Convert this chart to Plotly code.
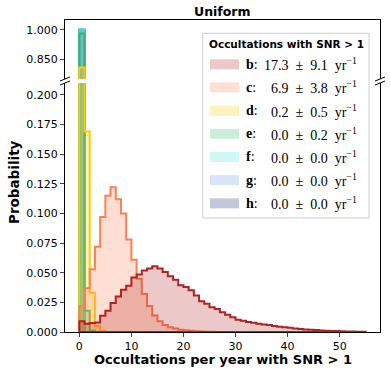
"""
Histograma de ocultaciones por año con SNR > 1 (distribución Uniform),
con eje Y partido en dos paneles.
"""

import plotly.graph_objects as go

# Probabilidad por bin de ancho 1, empezando en 0
prob_b = [0.009, 0.007, 0.0075, 0.008, 0.0138, 0.018, 0.0245, 0.030, 0.0357, 0.039,
          0.046, 0.0484, 0.0518, 0.0535, 0.0554, 0.0535, 0.0507, 0.047, 0.044, 0.0394,
          0.038, 0.0352, 0.0307, 0.0259, 0.0239, 0.0208, 0.0194, 0.0166, 0.0146, 0.0124,
          0.0104, 0.0095, 0.0085, 0.0077, 0.0070, 0.0064, 0.0058, 0.0050, 0.0045, 0.0040,
          0.0035, 0.0030, 0.0026, 0.0022, 0.0019, 0.0016, 0.0013, 0.0011, 0.0009, 0.0008,
          0.0006, 0.0005, 0.0004, 0.0003, 0.0002]
prob_c = [0.022, 0.037, 0.053, 0.072, 0.097, 0.115, 0.122, 0.112, 0.100, 0.078,
          0.061, 0.045, 0.032, 0.022, 0.014, 0.009, 0.006, 0.004, 0.003, 0.002,
          0.0015, 0.001, 0.0007, 0.0005, 0.0003, 0.0002]
prob_d = [0.809, 0.169, 0.033, 0.005, 0.001]
prob_e = [0.981, 0.018, 0.001]
prob_f = [1.0]
prob_g = [1.0]
prob_h = [1.0]

planetas = ["b", "c", "d", "e", "f", "g", "h"]
medias = ["17.3", "6.9", "0.2", "0.0", "0.0", "0.0", "0.0"]
sigmas = ["9.1", "3.8", "0.5", "0.2", "0.0", "0.0", "0.0"]
series = [prob_b, prob_c, prob_d, prob_e, prob_f, prob_g, prob_h]
colores = [(178, 34, 34), (255, 127, 80), (255, 205, 0), (60, 179, 113),
           (64, 224, 208), (100, 149, 237), (25, 25, 112)]

yticks_top = [0.85, 1.0]
yticks_bottom = [0.0, 0.025, 0.05, 0.075, 0.1, 0.125, 0.15, 0.175, 0.2]
xticks = [0, 10, 20, 30, 40, 50]

W, H = 391, 369
L, R, T, B = 65, 11, 20, 37
NB = "\u00a0"


def xp(px):
    return (px - L) / (W - L - R)


def yp(py):
    return (H - B - py) / (H - T - B)


def rgb(c):
    return f"rgb({c[0]},{c[1]},{c[2]})"


def rgba(c, a):
    return f"rgba({c[0]},{c[1]},{c[2]},{a})"


def step_xy(values):
    n = len(values)
    xs = [0, 0] + list(range(1, n + 1)) + [0]
    ys = [0] + list(values) + [0, 0]
    return xs, ys


fig = go.Figure()
# Orden inverso: b queda encima
for nombre, vals, col in reversed(list(zip(planetas, series, colores))):
    xs, ys = step_xy(vals)
    for xa, ya in (("x", "y"), ("x2", "y2")):
        fig.add_scatter(
            x=xs, y=ys, xaxis=xa, yaxis=ya, mode="lines", line_shape="hv",
            fill="toself", fillcolor=rgba(col, 0.25),
            line=dict(color=rgb(col), width=2), showlegend=False,
            hoverinfo="skip", name=nombre,
        )

xr = [-2.75, 57.75]
comun = dict(showgrid=False, zeroline=False, showline=True, linecolor="black",
             linewidth=1)
fig.update_layout(
    width=W, height=H,
    margin=dict(l=L, r=R, t=T, b=B),
    plot_bgcolor="white", paper_bgcolor="white",
    font=dict(family="DejaVu Sans", size=11, color="black"),
    xaxis=dict(domain=[0, 1], anchor="y", range=xr, side="top", ticks="",
               showticklabels=False, **comun),
    yaxis=dict(domain=[yp(79), 1], anchor="x", range=[0.75, 1.05],
               tickvals=yticks_top, tickformat=".3f", ticks="outside",
               ticklen=4, tickwidth=1, mirror=True, **comun),
    xaxis2=dict(domain=[0, 1], anchor="y2", range=xr, matches="x",
                tickvals=xticks, ticks="outside", ticklen=4, tickwidth=1, **comun),
    yaxis2=dict(domain=[0, yp(83)], anchor="x2", range=[0, 0.21],
                tickvals=yticks_bottom, tickformat=".3f", ticks="outside",
                ticklen=4, tickwidth=1, mirror=True, **comun),
)

# Marcas del corte del eje
for px in (L, W - R):
    for py in (79, 83):
        fig.add_shape(type="line", xref="paper", yref="paper",
                      x0=xp(px - 5), y0=yp(py + 2), x1=xp(px + 5), y1=yp(py - 2),
                      line=dict(color="black", width=1))

# Textos de ejes y título
fig.add_annotation(text="<b>Uniform</b>", x=0.5, y=yp(11), xref="paper", yref="paper",
                   showarrow=False, font=dict(size=12.5), xanchor="center",
                   yanchor="middle")
fig.add_annotation(text="<b>Occultations per year with SNR > 1</b>", x=xp(222.5),
                   y=yp(359.5), xref="paper", yref="paper", showarrow=False,
                   font=dict(size=13), xanchor="center", yanchor="middle",
                   borderpad=0)
fig.add_annotation(text="<b>Probability</b>", x=xp(14), y=yp(182), xref="paper",
                   yref="paper", showarrow=False, textangle=-90,
                   font=dict(size=13.5), xanchor="center", yanchor="middle")

# Leyenda manual
fig.add_shape(type="rect", xref="paper", yref="paper",
              x0=xp(202.7), x1=xp(369), y0=yp(218), y1=yp(33.3),
              line=dict(color="#cccccc", width=1), fillcolor="rgba(255,255,255,0.8)")
fig.add_annotation(text="<b>Occultations with SNR > 1</b>", x=xp(286), y=yp(44),
                   xref="paper", yref="paper", showarrow=False,
                   font=dict(size=10.5), xanchor="center", yanchor="middle")
serif = dict(family="Liberation Serif", size=14)
for i, (nombre, mu, sd, col) in enumerate(zip(planetas, medias, sigmas, colores)):
    yc = 64.3 + 23.17 * i
    fig.add_shape(type="rect", xref="paper", yref="paper",
                  x0=xp(210), x1=xp(239), y0=yp(yc - 5), y1=yp(yc + 5),
                  line=dict(width=0), fillcolor=rgba(col, 0.25))
    fig.add_annotation(text=f"<b>{nombre}</b>:", x=xp(244), y=yp(yc), xref="paper",
                       yref="paper", showarrow=False, xanchor="left", yanchor="middle",
                       font=serif)
    txt = f"{mu}{NB * 2}±{NB * 2}{sd}{NB * 2}yr<sup>−1</sup>"
    fig.add_annotation(text=txt, x=xp(359), y=yp(yc), xref="paper", yref="paper",
                       showarrow=False, xanchor="right", yanchor="middle", font=serif)

fig.write_html("out.html", config={"displayModeBar": False},
               post_script="document.body.style.margin='0';")
